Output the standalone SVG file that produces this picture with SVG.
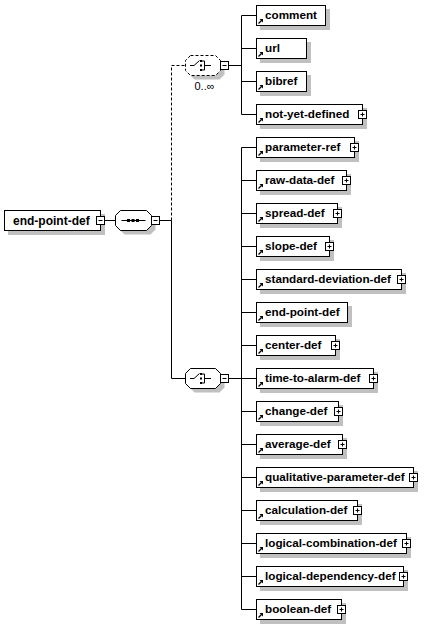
<svg xmlns="http://www.w3.org/2000/svg" xmlns:xlink="http://www.w3.org/1999/xlink" width="437" height="625" viewBox="0 0 437 625">
<style>
.bg{fill:#ffffff}
.box{fill:#ffffff;stroke:#000000;stroke-width:1}
.shadow{fill:#c0c0c0;stroke:none}
.lbl{font-family:"Liberation Sans",Arial,sans-serif;font-weight:bold;font-size:11.7px;fill:#000000}
.main{font-size:12px}
.occ{font-family:"Liberation Sans",Arial,sans-serif;font-size:11px;fill:#000000}
.ln{fill:none;stroke:#000000;stroke-width:1}
.dash{stroke-dasharray:3,2}
.pm{fill:#ffffff;stroke:#000000;stroke-width:1}
</style>
<defs>
<g id="plus">
<rect class="pm" x="-4" y="-4" width="8" height="8"/>
<path class="ln" d="M-2,0H2M0,-2V2"/>
</g>
<g id="minus">
<rect class="pm" x="-4" y="-4" width="8" height="8"/>
<path class="ln" d="M-2,0H2"/>
</g>
<g id="ref">
<path d="M-0.5,3.5L2.5,0.5" stroke="#000" stroke-width="1.3" fill="none"/>
<path d="M0.5,-1L4,-1L4,2.5Z" fill="#000"/>
</g>
</defs>
<rect class="bg" x="0" y="0" width="437" height="625"/>

<g id="connectors">
<path class="ln" d="M104.5,220.5H115.5M159.5,220.5H171.5"/>
<path class="ln dash" d="M171.5,220.5V65.5H185.5"/>
<path class="ln" d="M171.5,220.5V378.5H185.5"/>
<path class="ln" d="M228.5,65.5H241.5M241.5,15.5V114.5M241.5,15.5H256.5M241.5,48.5H256.5M241.5,81.5H256.5M241.5,114.5H256.5"/>
<path class="ln" d="M228.5,378.5H241.5M241.5,147.5V609.5M241.5,147.5H256.5M241.5,180.5H256.5M241.5,213.5H256.5M241.5,246.5H256.5M241.5,279.5H256.5M241.5,312.5H256.5M241.5,345.5H256.5M241.5,378.5H256.5M241.5,411.5H256.5M241.5,444.5H256.5M241.5,477.5H256.5M241.5,510.5H256.5M241.5,543.5H256.5M241.5,576.5H256.5M241.5,609.5H256.5"/>
</g>

<g id="end-point-def-root">
<rect class="shadow" x="8" y="214" width="97" height="21"/>
<rect class="box" x="4.5" y="210.5" width="96" height="20"/>
<text class="lbl main" x="13" y="225">end-point-def</text>
<use xlink:href="#minus" x="100.5" y="220.5"/>
</g>

<g id="sequence">
<path class="shadow" d="M124.5,214.5H150.5L155.5,219.5V229.5L150.5,234.5H124.5L119.5,229.5V219.5Z"/>
<path class="box" d="M120.5,210.5H146.5L151.5,215.5V225.5L146.5,230.5H120.5L115.5,225.5V215.5Z"/>
<path class="ln" d="M121.5,220.5H145.5"/>
<rect x="127" y="219" width="3" height="3" fill="#000"/>
<rect x="131.5" y="219" width="3" height="3" fill="#000"/>
<rect x="136" y="219" width="3" height="3" fill="#000"/>
<use xlink:href="#minus" x="155.5" y="220.5"/>
</g>

<g id="choice-optional">
<path class="shadow" d="M194.5,59.5H219.5L224.5,64.5V74.5L219.5,79.5H194.5L189.5,74.5V64.5Z"/>
<path class="box dash" d="M190.5,55.5H215.5L220.5,60.5V70.5L215.5,75.5H190.5L185.5,70.5V60.5Z"/>
<path class="ln" d="M190,65.5H194L199.5,60.5M202,61H204.5V70H202M204.5,65.5H211"/>
<rect x="200" y="60" width="2" height="2" fill="#000"/>
<rect x="200" y="64.5" width="2" height="2" fill="#000"/>
<rect x="200" y="69" width="2" height="2" fill="#000"/>
<use xlink:href="#minus" x="224.5" y="65.5"/>
<text class="occ" x="194.5" y="90">0..∞</text>
</g>

<g id="choice">
<path class="shadow" d="M194.5,372.5H219.5L224.5,377.5V387.5L219.5,392.5H194.5L189.5,387.5V377.5Z"/>
<path class="box" d="M190.5,368.5H215.5L220.5,373.5V383.5L215.5,388.5H190.5L185.5,383.5V373.5Z"/>
<path class="ln" d="M190,378.5H194L199.5,373.5M202,374H204.5V383H202M204.5,378.5H211"/>
<rect x="200" y="373" width="2" height="2" fill="#000"/>
<rect x="200" y="377.5" width="2" height="2" fill="#000"/>
<rect x="200" y="382" width="2" height="2" fill="#000"/>
<use xlink:href="#minus" x="224.5" y="378.5"/>
</g>

<g id="comment">
<rect class="shadow" x="260" y="9" width="70" height="21"/>
<rect class="box" x="256.5" y="5.5" width="69" height="20"/>
<use xlink:href="#ref" x="259" y="20"/>
<text class="lbl" x="265" y="19">comment</text>
</g>
<g id="url">
<rect class="shadow" x="260" y="42" width="51" height="21"/>
<rect class="box" x="256.5" y="38.5" width="50" height="20"/>
<use xlink:href="#ref" x="259" y="53"/>
<text class="lbl" x="265" y="52">url</text>
</g>
<g id="bibref">
<rect class="shadow" x="260" y="75" width="51" height="21"/>
<rect class="box" x="256.5" y="71.5" width="50" height="20"/>
<use xlink:href="#ref" x="259" y="86"/>
<text class="lbl" x="265" y="85">bibref</text>
</g>
<g id="not-yet-defined">
<rect class="shadow" x="260" y="108" width="107" height="21"/>
<rect class="box" x="256.5" y="104.5" width="106" height="20"/>
<use xlink:href="#ref" x="259" y="119"/>
<text class="lbl" x="265" y="118">not-yet-defined</text>
<use xlink:href="#plus" x="362.5" y="114.5"/>
</g>

<g id="parameter-ref">
<rect class="shadow" x="260" y="141" width="99" height="21"/>
<rect class="box" x="256.5" y="137.5" width="98" height="20"/>
<use xlink:href="#ref" x="259" y="152"/>
<text class="lbl" x="265" y="151">parameter-ref</text>
<use xlink:href="#plus" x="354.5" y="147.5"/>
</g>
<g id="raw-data-def">
<rect class="shadow" x="260" y="174" width="91" height="21"/>
<rect class="box" x="256.5" y="170.5" width="90" height="20"/>
<use xlink:href="#ref" x="259" y="185"/>
<text class="lbl" x="265" y="184">raw-data-def</text>
<use xlink:href="#plus" x="346.5" y="180.5"/>
</g>
<g id="spread-def">
<rect class="shadow" x="260" y="207" width="82" height="21"/>
<rect class="box" x="256.5" y="203.5" width="81" height="20"/>
<use xlink:href="#ref" x="259" y="218"/>
<text class="lbl" x="265" y="217">spread-def</text>
<use xlink:href="#plus" x="337.5" y="213.5"/>
</g>
<g id="slope-def">
<rect class="shadow" x="260" y="240" width="74" height="21"/>
<rect class="box" x="256.5" y="236.5" width="73" height="20"/>
<use xlink:href="#ref" x="259" y="251"/>
<text class="lbl" x="265" y="250">slope-def</text>
<use xlink:href="#plus" x="329.5" y="246.5"/>
</g>
<g id="standard-deviation-def">
<rect class="shadow" x="260" y="273" width="146" height="21"/>
<rect class="box" x="256.5" y="269.5" width="145" height="20"/>
<use xlink:href="#ref" x="259" y="284"/>
<text class="lbl" x="265" y="283">standard-deviation-def</text>
<use xlink:href="#plus" x="401.5" y="279.5"/>
</g>
<g id="end-point-def">
<rect class="shadow" x="260" y="306" width="92" height="21"/>
<rect class="box" x="256.5" y="302.5" width="91" height="20"/>
<use xlink:href="#ref" x="259" y="317"/>
<text class="lbl" x="265" y="316">end-point-def</text>
</g>
<g id="center-def">
<rect class="shadow" x="260" y="339" width="80" height="21"/>
<rect class="box" x="256.5" y="335.5" width="79" height="20"/>
<use xlink:href="#ref" x="259" y="350"/>
<text class="lbl" x="265" y="349">center-def</text>
<use xlink:href="#plus" x="335.5" y="345.5"/>
</g>
<g id="time-to-alarm-def">
<rect class="shadow" x="260" y="372" width="118" height="21"/>
<rect class="box" x="256.5" y="368.5" width="117" height="20"/>
<use xlink:href="#ref" x="259" y="383"/>
<text class="lbl" x="265" y="382">time-to-alarm-def</text>
<use xlink:href="#plus" x="373.5" y="378.5"/>
</g>
<g id="change-def">
<rect class="shadow" x="260" y="405" width="83" height="21"/>
<rect class="box" x="256.5" y="401.5" width="82" height="20"/>
<use xlink:href="#ref" x="259" y="416"/>
<text class="lbl" x="265" y="415">change-def</text>
<use xlink:href="#plus" x="338.5" y="411.5"/>
</g>
<g id="average-def">
<rect class="shadow" x="260" y="438" width="87" height="21"/>
<rect class="box" x="256.5" y="434.5" width="86" height="20"/>
<use xlink:href="#ref" x="259" y="449"/>
<text class="lbl" x="265" y="448">average-def</text>
<use xlink:href="#plus" x="342.5" y="444.5"/>
</g>
<g id="qualitative-parameter-def">
<rect class="shadow" x="260" y="471" width="158" height="21"/>
<rect class="box" x="256.5" y="467.5" width="157" height="20"/>
<use xlink:href="#ref" x="259" y="482"/>
<text class="lbl" x="265" y="481">qualitative-parameter-def</text>
<use xlink:href="#plus" x="413.5" y="477.5"/>
</g>
<g id="calculation-def">
<rect class="shadow" x="260" y="504" width="102" height="21"/>
<rect class="box" x="256.5" y="500.5" width="101" height="20"/>
<use xlink:href="#ref" x="259" y="515"/>
<text class="lbl" x="265" y="514">calculation-def</text>
<use xlink:href="#plus" x="357.5" y="510.5"/>
</g>
<g id="logical-combination-def">
<rect class="shadow" x="260" y="537" width="151" height="21"/>
<rect class="box" x="256.5" y="533.5" width="150" height="20"/>
<use xlink:href="#ref" x="259" y="548"/>
<text class="lbl" x="265" y="547">logical-combination-def</text>
<use xlink:href="#plus" x="406.5" y="543.5"/>
</g>
<g id="logical-dependency-def">
<rect class="shadow" x="260" y="570" width="148" height="21"/>
<rect class="box" x="256.5" y="566.5" width="147" height="20"/>
<use xlink:href="#ref" x="259" y="581"/>
<text class="lbl" x="265" y="580">logical-dependency-def</text>
<use xlink:href="#plus" x="403.5" y="576.5"/>
</g>
<g id="boolean-def">
<rect class="shadow" x="260" y="603" width="86" height="21"/>
<rect class="box" x="256.5" y="599.5" width="85" height="20"/>
<use xlink:href="#ref" x="259" y="614"/>
<text class="lbl" x="265" y="613">boolean-def</text>
<use xlink:href="#plus" x="341.5" y="609.5"/>
</g>
</svg>
